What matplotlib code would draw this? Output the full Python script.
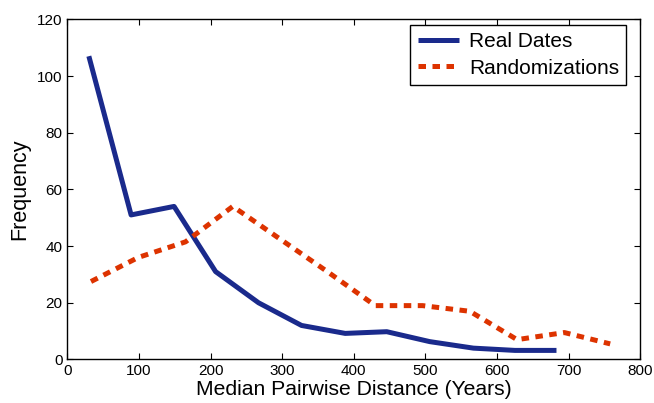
import matplotlib
matplotlib.use("Agg")
import matplotlib.pyplot as plt

plt.rcParams['font.family'] = ['Liberation Sans', 'DejaVu Sans']

# values
real_x = [30, 89, 149, 207, 267, 327, 388, 446, 506, 567, 625, 683]
real_y = [107, 51, 54, 31, 20, 12, 9.2, 9.8, 6.3, 4, 3.2, 3.2]

rand_x = [33, 99, 165, 231, 297, 363, 430, 496, 562, 628, 694, 758]
rand_y = [27.5, 36, 41.5, 54, 42.5, 31, 19, 19, 17, 7, 9.5, 5.5]

x_ticks = [0, 100, 200, 300, 400, 500, 600, 700, 800]
y_ticks = [0, 20, 40, 60, 80, 100, 120]

fig = plt.figure(figsize=(6.54, 4.03), dpi=100)
ax = fig.add_axes([0.103, 0.108, 0.876, 0.844])

ax.plot(real_x, real_y, color='#1a2a8c', linewidth=3.6,
        solid_capstyle='butt', solid_joinstyle='round', label='Real Dates')
line, = ax.plot(rand_x, rand_y, color='#dd3300', linewidth=3.6,
                dash_capstyle='butt', label='Randomizations')
line.set_dashes([1.5, 1.3])

ax.set_xlim(0, 800)
ax.set_ylim(0, 120)
ax.set_xticks(x_ticks)
ax.set_yticks(y_ticks)
ax.tick_params(direction='in', top=True, right=True, labelsize=11, length=4)
for s in ax.spines.values():
    s.set_linewidth(1.0)

ax.set_xlabel('Median Pairwise Distance (Years)', fontsize=15.2, labelpad=1)
ax.set_ylabel('Frequency', fontsize=15.5, labelpad=5)

leg = ax.legend(loc='upper right', bbox_to_anchor=(0.9755, 0.983),
                fontsize=15, fancybox=False, framealpha=1,
                edgecolor='black', handlelength=2.0, borderpad=0.35,
                labelspacing=0.35, handletextpad=0.45, borderaxespad=0)
leg.get_frame().set_linewidth(1.0)

fig.savefig('out.png', dpi=100)
